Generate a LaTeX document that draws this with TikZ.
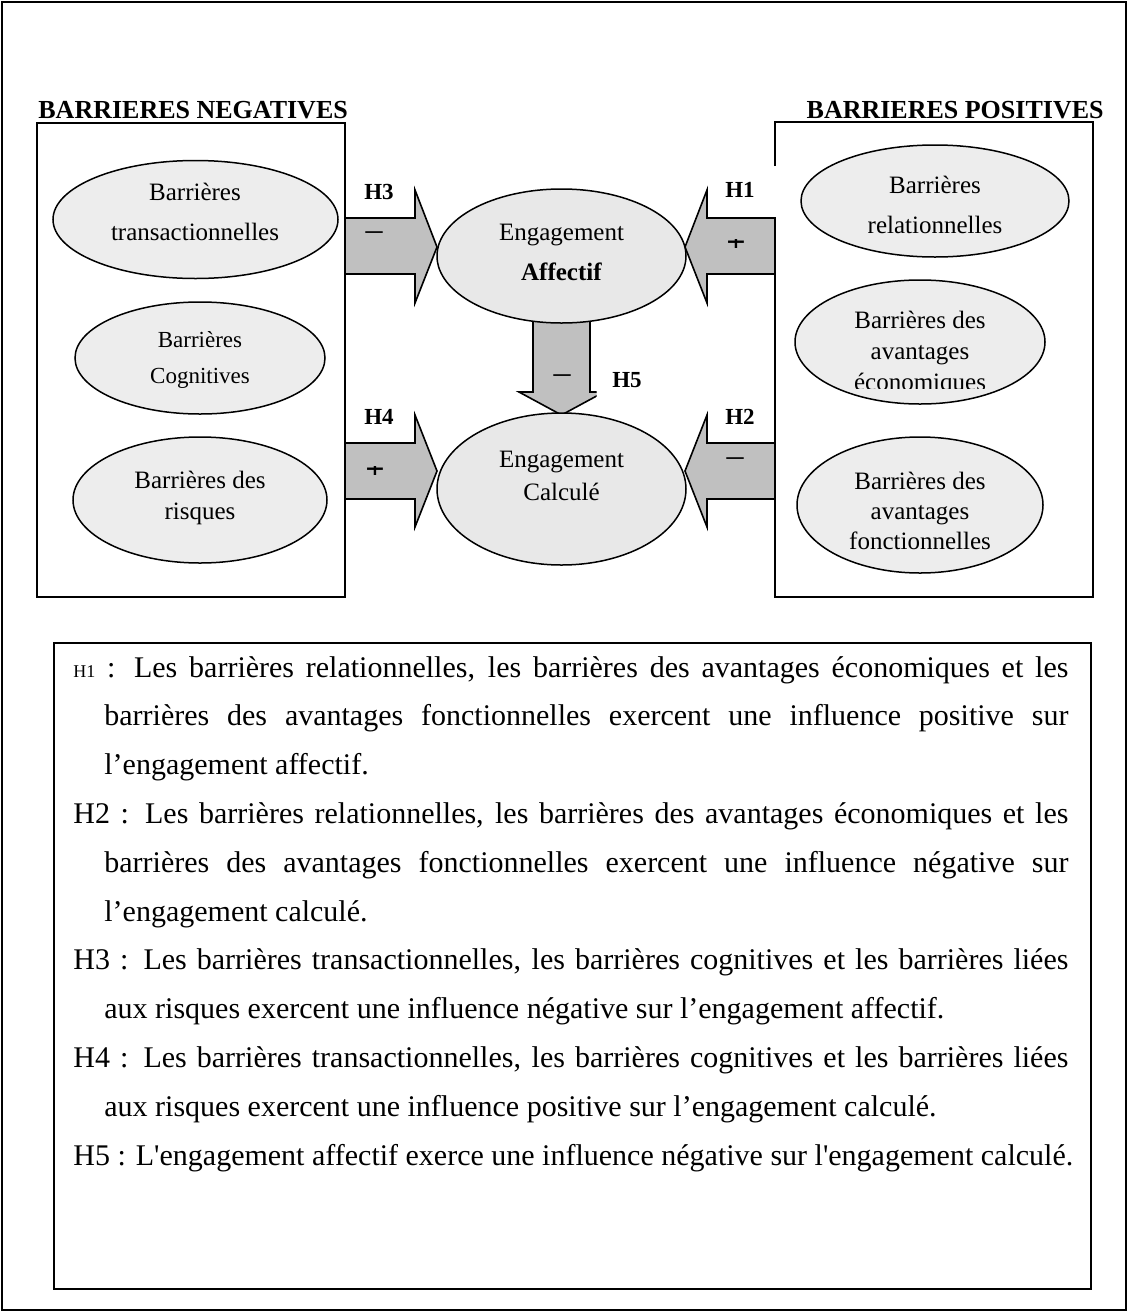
\documentclass[tikz,border=0pt]{standalone}
\usepackage{fontspec}
\setmainfont{Liberation Serif}
\usetikzlibrary{shapes.geometric}
\definecolor{arrowgray}{RGB}{192,192,192}
\definecolor{ellfill}{RGB}{237,237,237}
\definecolor{centfill}{RGB}{232,232,232}
\begin{document}
\begin{tikzpicture}[x=0.5pt,y=-0.5pt,
  ell/.style={ellipse, draw, line width=0.75pt, fill=ellfill, inner sep=0pt},
  cell/.style={ellipse, draw, line width=0.75pt, fill=centfill, inner sep=0pt},
  etext/.style={align=center, inner sep=0pt},
  blk/.style={draw, line width=0.8pt, fill=arrowgray, line join=miter},
  hlab/.style={font=\fontsize{11.5}{14}\selectfont\bfseries, inner sep=0pt},
  head/.style={font=\fontsize{13}{16}\selectfont\bfseries, inner sep=0pt},
  sign/.style={font=\fontsize{17}{20}\selectfont, inner sep=0pt},
  psign/.style={font=\fontsize{17}{20}\selectfont\bfseries, inner sep=0pt, anchor=base},
  body/.style={font=\fontsize{15}{24.5}\selectfont, inner sep=0pt, anchor=base west},
]
\useasboundingbox (0,0) rectangle (1128,1312);
\draw[line width=1pt] (2,2) rectangle (1126,1310);

% headers
\node[head, anchor=base west] (hneg) at (38,118) {BARRIERES NEGATIVES};
\node[head, anchor=base east] (hpos) at (1104,118) {BARRIERES POSITIVES};

% boxes
\node[draw, line width=1pt, inner sep=0pt, minimum width=154pt, minimum height=237pt, anchor=north west] (LB) at (36,122) {};
\node[inner sep=0pt, minimum width=158.5pt, minimum height=237pt, anchor=north west] (RB) at (775,122) {};
\draw[line width=1pt] (775,166) -- (RB.north west) -- (RB.north east) -- (RB.south east) -- (RB.south west) -- (775,218);

% block arrows
\draw[blk] (345,218) -- (415,218) -- (415,190) -- (437,247) -- (415,303) -- (415,274) -- (345,274) -- cycle;
\draw[blk] (345,443) -- (415,443) -- (415,415) -- (437,471) -- (415,527) -- (415,499) -- (345,499) -- cycle;
\draw[blk] (775,218) -- (707,218) -- (707,190) -- (685,247) -- (707,303) -- (707,274) -- (775,274) -- cycle;
\draw[blk] (775,443) -- (707,443) -- (707,415) -- (685,471) -- (707,527) -- (707,499) -- (775,499) -- cycle;
\begin{scope}
\clip (0,0) -- (1128,0) -- (1128,390.5) -- (596.5,390.5) -- (596.5,1312) -- (0,1312) -- cycle;
\draw[blk] (533,318) -- (590,318) -- (590,392) -- (604,392) -- (561.5,415) -- (519,392) -- (533,392) -- cycle;
\end{scope}

% ellipses
\node[ell, minimum width=142.5pt, minimum height=59pt] (trans) at (195.5,219.5) {};
\node[etext, font=\fontsize{12.5}{20}\selectfont] (ttrans) at (195,212) {Barrières\\transactionnelles};
\node[ell, minimum width=125pt, minimum height=56pt] (cogn) at (200,358) {};
\node[etext, font=\fontsize{11.5}{18}\selectfont] (tcogn) at (200,360) {Barrières\\Cognitives};
\node[ell, minimum width=127pt, minimum height=63pt] (risq) at (200,500) {};
\node[etext, font=\fontsize{12.5}{15.5}\selectfont] (trisq) at (200,497.5) {Barrières des\\risques};

\node[cell, minimum width=124.5pt, minimum height=67pt] (aff) at (561.5,256) {};
\node[etext, font=\fontsize{12.5}{20}\selectfont] (taff) at (561.5,252) {Engagement\\\textbf{Affectif}};
\node[cell, minimum width=124.5pt, minimum height=76pt] (calc) at (561.5,489) {};
\node[etext, font=\fontsize{12.5}{16.5}\selectfont] (tcalc) at (561.5,476) {Engagement\\Calculé};

\node[ell, minimum width=134pt, minimum height=56pt] (rel) at (935,201) {};
\node[etext, font=\fontsize{12.5}{20}\selectfont] (trel) at (935,205) {Barrières\\relationnelles};
\node[ell, minimum width=125pt, minimum height=62pt] (eco) at (920,342) {};
\begin{scope}
\clip (780,290) rectangle (1060,388.5);
\node[etext, font=\fontsize{12.5}{15.5}\selectfont] (teco) at (920,353) {Barrières des\\avantages\\économiques};
\end{scope}
\node[ell, minimum width=123pt, minimum height=68pt] (fonc) at (920,505) {};
\node[etext, font=\fontsize{12.5}{15}\selectfont] (tfonc) at (920,511) {Barrières des\\avantages\\fonctionnelles};

% labels
\node[hlab] (l3) at (379,192) {H3};
\node[hlab] (l1) at (740,190) {H1};
\node[hlab] (l4) at (379,417) {H4};
\node[hlab] (l2) at (740,417) {H2};
\node[hlab] (l5) at (627,380) {H5};

\node[sign] (s3) at (374,236) {–};
\node[sign] (s2) at (735,462) {–};
\node[sign] (s5) at (562,379) {–};
\begin{scope}
\clip (720,239.5) rectangle (752,247);
\node[psign] (s1) at (736,253.6) {+};
\end{scope}
\begin{scope}
\clip (360,466.5) rectangle (392,474);
\node[psign] (s4) at (375,480.6) {+};
\end{scope}

% hypotheses box
\node[draw, line width=1pt, inner sep=0pt, minimum width=518.5pt, minimum height=323pt, anchor=north west] (TB) at (53,642) {};
\node[body] (t1) at (73,677) {\makebox[497.5pt][s]{{\fontsize{9}{10}\selectfont H1} : Les barrières relationnelles, les barrières des avantages économiques et les}};
\node[body] (t2) at (104,725.8) {\makebox[482pt][s]{barrières des avantages fonctionnelles exercent une influence positive sur}};
\node[body] (t3) at (104,774.6) {l’engagement affectif.};
\node[body] (t4) at (73,823.4) {\makebox[497.5pt][s]{H2 : Les barrières relationnelles, les barrières des avantages économiques et les}};
\node[body] (t5) at (104,872.2) {\makebox[482pt][s]{barrières des avantages fonctionnelles exercent une influence négative sur}};
\node[body] (t6) at (104,921) {l’engagement calculé.};
\node[body] (t7) at (73,969.8) {\makebox[497.5pt][s]{H3 : Les barrières transactionnelles, les barrières cognitives et les barrières liées}};
\node[body] (t8) at (104,1018.6) {aux risques exercent une influence négative sur l’engagement affectif.};
\node[body] (t9) at (73,1067.4) {\makebox[497.5pt][s]{H4 : Les barrières transactionnelles, les barrières cognitives et les barrières liées}};
\node[body] (t10) at (104,1116.2) {aux risques exercent une influence positive sur l’engagement calculé.};
\node[body] (t11) at (73,1165) {H5 : L\textquotesingle engagement affectif exerce une influence négative sur l\textquotesingle engagement calculé.};
\end{tikzpicture}
\end{document}
